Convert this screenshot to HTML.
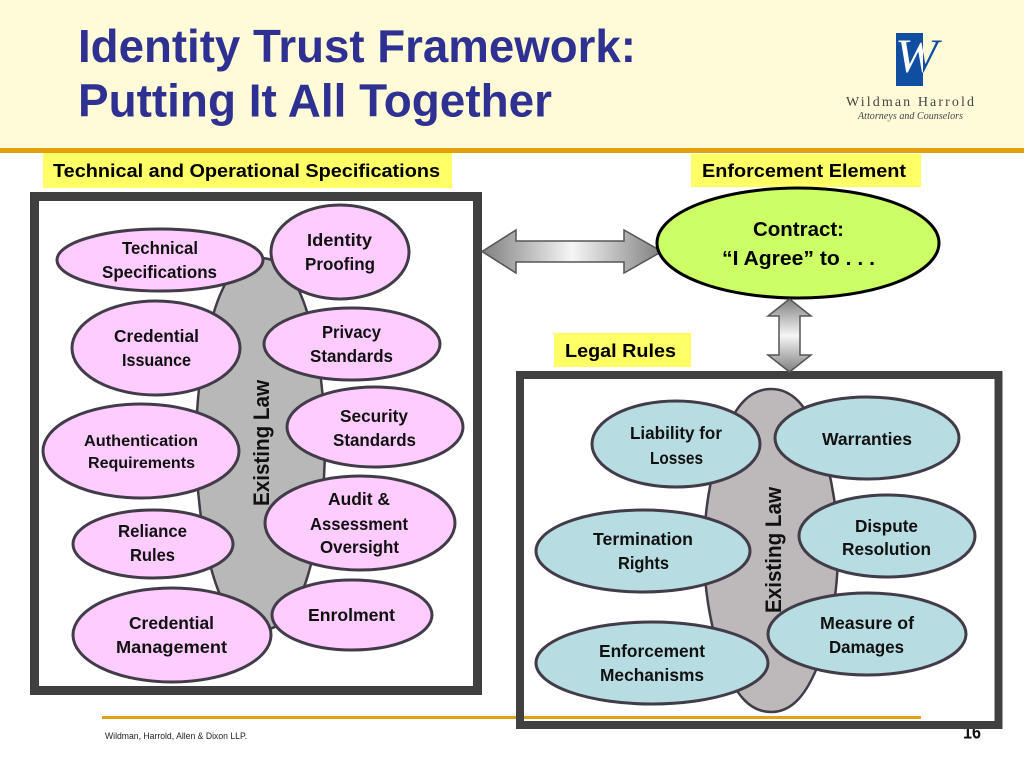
<!DOCTYPE html>
<html>
<head>
<meta charset="utf-8">
<style>
html,body{margin:0;padding:0;background:#fff;width:1024px;height:768px;overflow:hidden}
svg{display:block}
.t{font-family:"Liberation Sans",sans-serif;font-weight:bold;font-size:17.5px;fill:#111}
.e{stroke:#423c48;stroke-width:3}
.p{fill:#ffccff}
.b{fill:#b7dde2}
.h{font-family:"Liberation Sans",sans-serif;font-weight:bold;fill:#000;font-size:18.5px}
.title{font-family:"Liberation Sans",sans-serif;font-weight:bold;fill:#2e3192;font-size:46px}
</style>
</head>
<body>
<svg width="1024" height="768" viewBox="0 0 1024 768" xmlns="http://www.w3.org/2000/svg">
<defs>
<linearGradient id="gh" x1="0" x2="1" y1="0" y2="0">
<stop offset="0" stop-color="#7f7f7f"/><stop offset="0.5" stop-color="#f6f6f6"/><stop offset="1" stop-color="#7f7f7f"/>
</linearGradient>
<linearGradient id="gv" x1="0" x2="0" y1="0" y2="1">
<stop offset="0" stop-color="#7f7f7f"/><stop offset="0.5" stop-color="#f6f6f6"/><stop offset="1" stop-color="#7f7f7f"/>
</linearGradient>
<clipPath id="lg"><rect x="896" y="33" width="27" height="53"/></clipPath>
</defs>

<rect x="0" y="0" width="1024" height="148" fill="#fffbd9"/>
<rect x="0" y="148" width="1024" height="5" fill="#e0a00b"/>

<text class="title" x="78" y="62" textLength="558" lengthAdjust="spacingAndGlyphs">Identity Trust Framework:</text>
<text class="title" x="78" y="116.5" textLength="474" lengthAdjust="spacingAndGlyphs">Putting It All Together</text>

<text x="895" y="72" font-family="Liberation Serif,serif" font-size="48" font-style="italic" fill="#0f4ea0" textLength="43" lengthAdjust="spacingAndGlyphs">W</text>
<rect x="896" y="33" width="27" height="53" fill="#0f4ea0"/>
<text x="895" y="72" font-family="Liberation Serif,serif" font-size="48" font-style="italic" fill="#fff" textLength="43" lengthAdjust="spacingAndGlyphs" clip-path="url(#lg)">W</text>
<text x="846" y="106" font-family="Liberation Serif,serif" font-size="14" fill="#444" textLength="128">Wildman Harrold</text>
<text x="858" y="119" font-family="Liberation Serif,serif" font-size="10" font-style="italic" fill="#444" textLength="105">Attorneys and Counselors</text>

<rect x="43" y="153" width="409" height="35" fill="#ffff66"/>
<text class="h" x="53" y="177" textLength="387" lengthAdjust="spacingAndGlyphs">Technical and Operational Specifications</text>
<rect x="691" y="154" width="230" height="33" fill="#ffff66"/>
<text class="h" x="702" y="177" textLength="204" lengthAdjust="spacingAndGlyphs">Enforcement Element</text>
<rect x="554" y="333" width="137" height="34" fill="#ffff66"/>
<text class="h" x="565" y="357" textLength="111" lengthAdjust="spacingAndGlyphs">Legal Rules</text>

<rect x="102" y="716" width="819" height="3" fill="#e0a01e"/>
<text x="105" y="739" font-family="Liberation Sans,sans-serif" font-size="9" fill="#222" textLength="142" lengthAdjust="spacingAndGlyphs">Wildman, Harrold, Allen &amp; Dixon LLP.</text>
<text x="963" y="738.5" font-family="Liberation Sans,sans-serif" font-size="18" font-weight="bold" fill="#111" textLength="18" lengthAdjust="spacingAndGlyphs">16</text>

<!-- left frame -->
<rect x="34.5" y="196.5" width="443" height="494" fill="none" stroke="#404040" stroke-width="9"/>
<path d="M260.5 258 C240 258 225 275 213 315 C201 355 196 405 196 444 C196 484 201 535 213 575 C225 615 240 630 260.5 630 C281 630 296 615 308 575 C320 535 325 484 325 444 C325 405 320 355 308 315 C296 275 281 258 260.5 258 Z" fill="#b8b8b8" stroke="#423c48" stroke-width="2.5"/>
<text class="t" style="font-size:22px" transform="translate(269,506) rotate(-90)" textLength="126" lengthAdjust="spacingAndGlyphs">Existing Law</text>

<ellipse class="e p" cx="160" cy="260" rx="103" ry="31"/>
<ellipse class="e p" cx="340" cy="252" rx="69" ry="47"/>
<ellipse class="e p" cx="156" cy="348" rx="84" ry="47"/>
<ellipse class="e p" cx="352" cy="344" rx="88" ry="36"/>
<ellipse class="e p" cx="141" cy="451" rx="98" ry="47"/>
<ellipse class="e p" cx="375" cy="427" rx="88" ry="40"/>
<ellipse class="e p" cx="153" cy="544" rx="80" ry="34"/>
<ellipse class="e p" cx="360" cy="523" rx="95" ry="47"/>
<ellipse class="e p" cx="172" cy="635" rx="99" ry="47"/>
<ellipse class="e p" cx="352" cy="615" rx="80" ry="35"/>

<text class="t" x="122" y="254" textLength="76" lengthAdjust="spacingAndGlyphs">Technical</text>
<text class="t" x="102" y="278" textLength="115" lengthAdjust="spacingAndGlyphs">Specifications</text>
<text class="t" x="307" y="246" textLength="65" lengthAdjust="spacingAndGlyphs">Identity</text>
<text class="t" x="305" y="270" textLength="70" lengthAdjust="spacingAndGlyphs">Proofing</text>
<text class="t" x="114" y="342" textLength="85" lengthAdjust="spacingAndGlyphs">Credential</text>
<text class="t" x="122" y="366" textLength="69" lengthAdjust="spacingAndGlyphs">Issuance</text>
<text class="t" x="322" y="338" textLength="59" lengthAdjust="spacingAndGlyphs">Privacy</text>
<text class="t" x="310" y="362" textLength="83" lengthAdjust="spacingAndGlyphs">Standards</text>
<text class="t" style="font-size:16px" x="84" y="446" textLength="114" lengthAdjust="spacingAndGlyphs">Authentication</text>
<text class="t" style="font-size:16px" x="88" y="468" textLength="107" lengthAdjust="spacingAndGlyphs">Requirements</text>
<text class="t" x="340" y="422" textLength="68" lengthAdjust="spacingAndGlyphs">Security</text>
<text class="t" x="333" y="446" textLength="83" lengthAdjust="spacingAndGlyphs">Standards</text>
<text class="t" x="118" y="537" textLength="69" lengthAdjust="spacingAndGlyphs">Reliance</text>
<text class="t" x="130" y="561" textLength="45" lengthAdjust="spacingAndGlyphs">Rules</text>
<text class="t" x="328" y="505" textLength="62" lengthAdjust="spacingAndGlyphs">Audit &amp;</text>
<text class="t" x="310" y="530" textLength="98" lengthAdjust="spacingAndGlyphs">Assessment</text>
<text class="t" x="320" y="553" textLength="79" lengthAdjust="spacingAndGlyphs">Oversight</text>
<text class="t" x="129" y="629" textLength="85" lengthAdjust="spacingAndGlyphs">Credential</text>
<text class="t" x="116" y="653" textLength="111" lengthAdjust="spacingAndGlyphs">Management</text>
<text class="t" x="308" y="621" textLength="87" lengthAdjust="spacingAndGlyphs">Enrolment</text>

<!-- right frame -->
<path d="M771 389 C750 389 735 405 722 440 C710 475 704 515 704 550 C704 590 710 625 722 660 C735 695 750 712 771 712 C792 712 807 695 820 660 C832 625 838 590 838 550 C838 515 832 475 820 440 C807 405 792 389 771 389 Z" fill="#bdb9bb" stroke="#423c48" stroke-width="2.5"/>
<rect x="520" y="375" width="478.5" height="350" fill="none" stroke="#404040" stroke-width="8"/>
<text class="t" style="font-size:22px" transform="translate(781,613) rotate(-90)" textLength="126" lengthAdjust="spacingAndGlyphs">Existing Law</text>

<ellipse class="e b" cx="676" cy="444" rx="84" ry="43"/>
<ellipse class="e b" cx="867" cy="438" rx="92" ry="41"/>
<ellipse class="e b" cx="887" cy="536" rx="88" ry="41"/>
<ellipse class="e b" cx="643" cy="551" rx="107" ry="41"/>
<ellipse class="e b" cx="867" cy="634" rx="99" ry="41"/>
<ellipse class="e b" cx="652" cy="663" rx="116" ry="41"/>

<text class="t" x="630" y="439" textLength="92" lengthAdjust="spacingAndGlyphs">Liability for</text>
<text class="t" x="650" y="464" textLength="53" lengthAdjust="spacingAndGlyphs">Losses</text>
<text class="t" x="822" y="445" textLength="90" lengthAdjust="spacingAndGlyphs">Warranties</text>
<text class="t" x="855" y="532" textLength="63" lengthAdjust="spacingAndGlyphs">Dispute</text>
<text class="t" x="842" y="555" textLength="89" lengthAdjust="spacingAndGlyphs">Resolution</text>
<text class="t" x="593" y="545" textLength="100" lengthAdjust="spacingAndGlyphs">Termination</text>
<text class="t" x="618" y="569" textLength="51" lengthAdjust="spacingAndGlyphs">Rights</text>
<text class="t" x="820" y="629" textLength="94" lengthAdjust="spacingAndGlyphs">Measure of</text>
<text class="t" x="829" y="653" textLength="75" lengthAdjust="spacingAndGlyphs">Damages</text>
<text class="t" x="599" y="657" textLength="106" lengthAdjust="spacingAndGlyphs">Enforcement</text>
<text class="t" x="600" y="681" textLength="104" lengthAdjust="spacingAndGlyphs">Mechanisms</text>

<!-- arrows -->
<polygon points="482,251.5 516,230 516,241 624,241 624,230 662,251.5 624,273 624,262 516,262 516,273" fill="url(#gh)" stroke="#555" stroke-width="1.5"/>
<ellipse cx="798" cy="243" rx="141" ry="55" fill="#ccff66" stroke="#000" stroke-width="3"/>
<polygon points="789.5,299 811,316 800,316 800,355 811,355 789.5,372 768,355 779,355 779,316 768,316" fill="url(#gv)" stroke="#555" stroke-width="1.5"/>

<text class="t" style="font-size:20px;fill:#000" x="753" y="236" textLength="91" lengthAdjust="spacingAndGlyphs">Contract:</text>
<text class="t" style="font-size:20px;fill:#000" x="722" y="265" textLength="153" lengthAdjust="spacingAndGlyphs">“I Agree” to . . .</text>
</svg>
</body>
</html>
